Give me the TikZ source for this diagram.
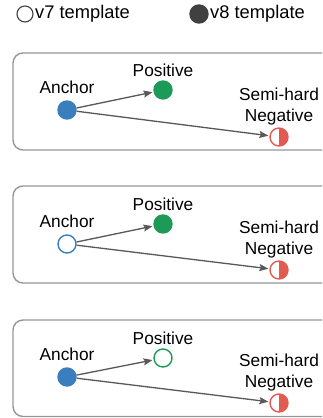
\documentclass[tikz,border=0pt]{standalone}
\usepackage{fontspec}
\setmainfont{Liberation Sans}
\usepackage{tikz}
\usetikzlibrary{arrows.meta, positioning}
\definecolor{anchorcolor}{RGB}{58,126,190}
\definecolor{poscolor}{RGB}{30,154,88}
\definecolor{negcolor}{RGB}{226,90,80}
\definecolor{edgecolor}{RGB}{88,88,88}
\definecolor{panelcolor}{RGB}{150,150,150}
\definecolor{legendcolor}{RGB}{64,64,64}

\begin{document}
\begin{tikzpicture}[
    x=1pt, y=-1pt,
    dot/.style={circle, inner sep=0pt, minimum size=18pt, line width=1.4pt},
    full/.style={dot, fill=#1, draw=#1},
    hollow/.style={dot, fill=white, draw=#1},
    halfneg/.style={dot, fill=white, draw=negcolor, path picture={\fill[negcolor] (path picture bounding box.north) rectangle (path picture bounding box.south east);}},
    lbl/.style={inner sep=0pt, align=center, font=\fontsize{17.3}{21}\selectfont},
    keytxt/.style={lbl, anchor=west, font=\fontsize{18.3}{21}\selectfont},
    pull/.style={-{Stealth[length=9pt, width=7pt, inset=1.5pt]}, line width=1.3pt, edgecolor, shorten >=1pt},
    panel/.style={draw=panelcolor, line width=1.4pt, rounded corners=10pt}
]
    \useasboundingbox (0,0) rectangle (322,418);
    \clip (0,0) rectangle (322,418);

    % Legend
    \node[hollow=legendcolor, minimum size=16pt, line width=1.1pt] (v7) at (25,14) {};
    \node[keytxt] (v7txt) at (35,14) {v7 template};
    \node[full=legendcolor] (v8) at (199,14) {};
    \node[keytxt] (v8txt) at (210,14) {v8 template};

    % Panel 1: all v8
    \draw[panel] (13,53) rectangle (334,150);
    \node[full=anchorcolor] (anc1) at (67,110) {};
    \node[full=poscolor] (pos1) at (163,90) {};
    \node[halfneg] (neg1) at (279,137) {};
    \node[lbl, above=6pt of anc1] (anclbl1) {Anchor};
    \node[lbl, above=3.5pt of pos1] (poslbl1) {Positive};
    \node[lbl, above=2.5pt of neg1] (neglbl1) {Semi-hard\\Negative};
    \draw[pull] (anc1) -- (pos1);
    \draw[pull] (anc1) -- (neg1);

    % Panel 2: v7 anchor
    \draw[panel] (13,186) rectangle (334,283);
    \node[hollow=anchorcolor] (anc2) at (67,244) {};
    \node[full=poscolor] (pos2) at (163,224) {};
    \node[halfneg] (neg2) at (279,270) {};
    \node[lbl, above=6pt of anc2] (anclbl2) {Anchor};
    \node[lbl, above=3.5pt of pos2] (poslbl2) {Positive};
    \node[lbl, above=2.5pt of neg2] (neglbl2) {Semi-hard\\Negative};
    \draw[pull] (anc2) -- (pos2);
    \draw[pull] (anc2) -- (neg2);

    % Panel 3: v7 positive
    \draw[panel] (13,320) rectangle (334,416.5);
    \node[full=anchorcolor] (anc3) at (67,377) {};
    \node[hollow=poscolor] (pos3) at (163,358) {};
    \node[halfneg] (neg3) at (279,403) {};
    \node[lbl, above=6pt of anc3] (anclbl3) {Anchor};
    \node[lbl, above=3.5pt of pos3] (poslbl3) {Positive};
    \node[lbl, above=2.5pt of neg3] (neglbl3) {Semi-hard\\Negative};
    \draw[pull] (anc3) -- (pos3);
    \draw[pull] (anc3) -- (neg3);
\end{tikzpicture}
\end{document}
